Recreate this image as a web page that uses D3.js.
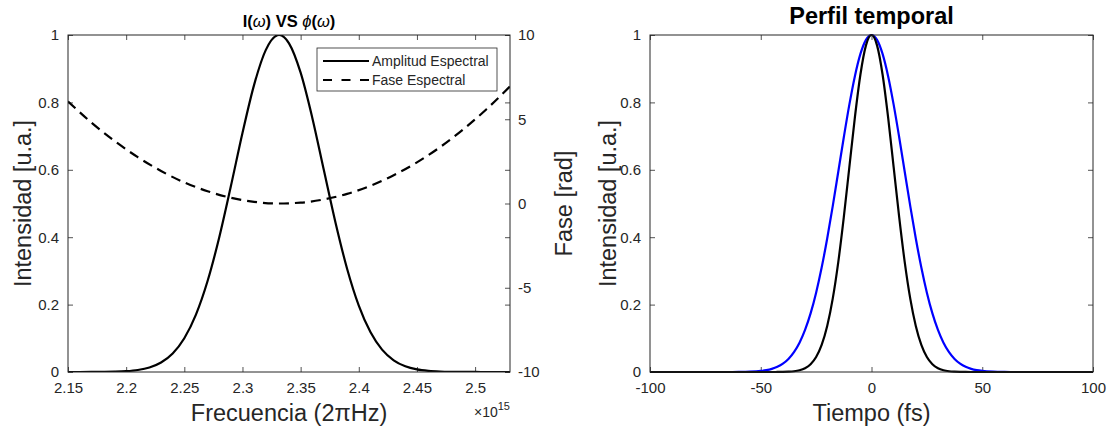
<!DOCTYPE html>
<html>
<head>
<meta charset="utf-8">
<script src="https://cdn.jsdelivr.net/npm/d3@7"></script>
<style>
  html, body { margin: 0; padding: 0; background: #fff; }
  svg { display: block; font-family: "Liberation Sans", Arial, Helvetica, sans-serif; }
</style>
</head>
<body>
<svg id="chart" width="1107" height="434"></svg>
<script>
// ---------- DATA ----------
// Left panel: spectral amplitude (normalized) vs frequency (x 1e15 2πHz)
const freq = [2.15, 2.16, 2.17, 2.18, 2.19, 2.20, 2.21, 2.22, 2.23, 2.24, 2.25, 2.26, 2.27, 2.28, 2.29, 2.30, 2.31, 2.32, 2.33, 2.3315, 2.34, 2.35, 2.36, 2.37, 2.38, 2.39, 2.40, 2.41, 2.42, 2.43, 2.44, 2.45, 2.46, 2.47, 2.48, 2.49, 2.50, 2.51, 2.52, 2.53];
const amplitud = [0.0000, 0.0000, 0.0001, 0.0004, 0.0010, 0.0025, 0.0060, 0.0135, 0.0283, 0.0551, 0.1003, 0.1703, 0.2699, 0.3992, 0.5509, 0.7092, 0.8521, 0.9552, 0.9992, 1.0000, 0.9753, 0.8882, 0.7548, 0.5985, 0.4429, 0.3058, 0.1970, 0.1184, 0.0664, 0.0348, 0.0170, 0.0077, 0.0033, 0.0013, 0.0005, 0.0002, 0.0001, 0.0000, 0.0000, 0.0000];
// Spectral phase (rad)
const freqFase = [2.15, 2.17, 2.19, 2.21, 2.23, 2.25, 2.27, 2.29, 2.31, 2.33, 2.35, 2.37, 2.39, 2.41, 2.43, 2.45, 2.47, 2.49, 2.51, 2.53];
const fase = [6.06, 4.81, 3.71, 2.75, 1.93, 1.25, 0.73, 0.34, 0.10, 0.00, 0.05, 0.24, 0.57, 1.05, 1.68, 2.44, 3.35, 4.41, 5.61, 6.95];

// Right panel: temporal profile
const tiempo = [-100, -65, -60, -55, -50, -47.5, -45, -42.5, -40, -37.5, -35, -32.5, -30, -27.5, -25, -22.5, -20, -17.5, -15, -12.5, -10, -7.5, -5, -2.5, 0, 2.5, 5, 7.5, 10, 12.5, 15, 17.5, 20, 22.5, 25, 27.5, 30, 32.5, 35, 37.5, 40, 42.5, 45, 47.5, 50, 55, 60, 65, 100];
const perfilNegro = [0, 0, 0, 0, 0, 0, 0, 0.0001, 0.0003, 0.0009, 0.0022, 0.0052, 0.0113, 0.0231, 0.0445, 0.0803, 0.1364, 0.2176, 0.3261, 0.4593, 0.6077, 0.7557, 0.8829, 0.9693, 1.0000, 0.9693, 0.8829, 0.7557, 0.6077, 0.4593, 0.3261, 0.2176, 0.1364, 0.0803, 0.0445, 0.0231, 0.0113, 0.0052, 0.0022, 0.0009, 0.0003, 0.0001, 0, 0, 0, 0, 0, 0, 0];
const perfilAzul = [0, 0, 0.0002, 0.0009, 0.0031, 0.0054, 0.0092, 0.0153, 0.0247, 0.0386, 0.0587, 0.0868, 0.1247, 0.1738, 0.2355, 0.3100, 0.3963, 0.4923, 0.5942, 0.6966, 0.7934, 0.8779, 0.9438, 0.9856, 1.0000, 0.9856, 0.9438, 0.8779, 0.7934, 0.6966, 0.5942, 0.4923, 0.3963, 0.3100, 0.2355, 0.1738, 0.1247, 0.0868, 0.0587, 0.0386, 0.0247, 0.0153, 0.0092, 0.0054, 0.0031, 0.0009, 0.0002, 0, 0];

// Ticks
const freqTicks = [2.15, 2.2, 2.25, 2.3, 2.35, 2.4, 2.45, 2.5];
const intTicks = [0, 0.2, 0.4, 0.6, 0.8, 1];
const faseTicks = [-10, -5, 0, 5, 10];
const tiempoTicks = [-100, -50, 0, 50, 100];
const legendLabels = ["Amplitud Espectral", "Fase Espectral"];

// ---------- DRAW ----------
const svg = d3.select("#chart");
const axisColor = "#262626";
const tickFont = 15;
const labelFont = "23.5px";

const yTop = 35, yBot = 372;

function styleAxis(g) {
  g.select(".domain").remove();
  g.selectAll(".tick line").attr("stroke", axisColor).attr("stroke-width", 0.8);
  g.selectAll(".tick text").attr("fill", axisColor).style("font-size", tickFont + "px")
    .style("font-family", '"Liberation Sans", Arial, sans-serif');
}
const fmtDec = d => (d === 0 || d === 1) ? String(d) : d.toFixed(1);
const fmtPlain = d => String(+d.toFixed(2));

// ===== Left panel =====
const L = { x0: 68, x1: 510 };
const xL = d3.scaleLinear().domain([2.15, 2.53]).range([L.x0, L.x1]);
const yL = d3.scaleLinear().domain([0, 1]).range([yBot, yTop]);
const yR = d3.scaleLinear().domain([-10, 10]).range([yBot, yTop]);

svg.append("clipPath").attr("id", "clipL").append("rect")
  .attr("x", L.x0).attr("y", yTop).attr("width", L.x1 - L.x0).attr("height", yBot - yTop);

const gL = svg.append("g");

gL.append("g").attr("transform", `translate(0,${yBot})`)
  .call(d3.axisBottom(xL).tickValues(freqTicks).tickSize(-5).tickPadding(10).tickFormat(fmtPlain))
  .call(styleAxis);
gL.append("g").attr("transform", `translate(0,${yTop})`)
  .call(d3.axisTop(xL).tickValues(freqTicks).tickSize(-5).tickFormat(""))
  .call(styleAxis);
gL.append("g").attr("transform", `translate(${L.x0},0)`)
  .call(d3.axisLeft(yL).tickValues(intTicks).tickSize(-5).tickPadding(9).tickFormat(fmtDec))
  .call(styleAxis);
gL.append("g").attr("transform", `translate(${L.x1},0)`)
  .call(d3.axisRight(yL).tickValues(intTicks).tickSize(-5).tickFormat(""))
  .call(styleAxis);
gL.append("g").attr("transform", `translate(${L.x1},0)`)
  .call(d3.axisRight(yR).tickValues(faseTicks).tickSize(-5).tickPadding(8).tickFormat(fmtPlain))
  .call(styleAxis);

const plotL = gL.append("g").attr("clip-path", "url(#clipL)");
plotL.append("path")
  .datum(freqFase.map((f, i) => [f, fase[i]]))
  .attr("fill", "none").attr("stroke", "#000").attr("stroke-width", 2.2)
  .attr("stroke-dasharray", "10,6")
  .attr("d", d3.line().x(d => xL(d[0])).y(d => yR(d[1])).curve(d3.curveMonotoneX));
plotL.append("path")
  .datum(freq.map((f, i) => [f, amplitud[i]]))
  .attr("fill", "none").attr("stroke", "#000").attr("stroke-width", 2.2)
  .attr("d", d3.line().x(d => xL(d[0])).y(d => yL(d[1])).curve(d3.curveMonotoneX));

gL.append("rect").attr("x", L.x0).attr("y", yTop).attr("width", L.x1 - L.x0).attr("height", yBot - yTop)
  .attr("fill", "none").attr("stroke", axisColor).attr("stroke-width", 1);

// Legend
const leg = gL.append("g");
leg.append("rect").attr("x", 317).attr("y", 48).attr("width", 180).attr("height", 43)
  .attr("fill", "#fff").attr("stroke", axisColor).attr("stroke-width", 0.8);
legendLabels.forEach((lab, i) => {
  const yy = 61 + i * 19;
  leg.append("line").attr("x1", 323).attr("x2", 369).attr("y1", yy).attr("y2", yy)
    .attr("stroke", "#000").attr("stroke-width", 2.2)
    .attr("stroke-dasharray", i === 1 ? "9,9.5" : null);
  leg.append("text").attr("x", 372).attr("y", yy + 5).text(lab)
    .style("font-size", "14px").attr("fill", axisColor);
});

// Title
const tL = gL.append("text").attr("x", (L.x0 + L.x1) / 2).attr("y", 27).attr("text-anchor", "middle")
  .style("font-size", "16.5px").style("font-weight", "bold").attr("fill", "#000");
tL.append("tspan").text("I(");
tL.append("tspan").text("ω").style("font-style", "italic").style("font-weight", "normal");
tL.append("tspan").text(") VS ");
tL.append("tspan").text("ϕ").style("font-style", "italic").style("font-weight", "normal");
tL.append("tspan").text("(");
tL.append("tspan").text("ω").style("font-style", "italic").style("font-weight", "normal");
tL.append("tspan").text(")");

// Axis labels
gL.append("text").attr("transform", `translate(31,${(yTop + yBot) / 2}) rotate(-90)`)
  .attr("text-anchor", "middle").style("font-size", labelFont).attr("fill", axisColor).text("Intensidad [u.a.]");
gL.append("text").attr("transform", `translate(572,${(yTop + yBot) / 2}) rotate(-90)`)
  .attr("text-anchor", "middle").style("font-size", labelFont).attr("fill", axisColor).text("Fase [rad]");
gL.append("text").attr("x", (L.x0 + L.x1) / 2).attr("y", 421).attr("text-anchor", "middle")
  .style("font-size", labelFont).attr("fill", axisColor).text("Frecuencia (2πHz)");
const expo = gL.append("text").attr("x", 474).attr("y", 417).style("font-size", "14px").attr("fill", axisColor);
expo.append("tspan").text("×10");
expo.append("tspan").text("15").attr("dy", -7).style("font-size", "11px");

// ===== Right panel =====
const R = { x0: 650, x1: 1093 };
const xT = d3.scaleLinear().domain([-100, 100]).range([R.x0, R.x1]);
const yT = d3.scaleLinear().domain([0, 1]).range([yBot, yTop]);

svg.append("clipPath").attr("id", "clipR").append("rect")
  .attr("x", R.x0).attr("y", yTop - 2).attr("width", R.x1 - R.x0).attr("height", yBot - yTop + 4);

const gR = svg.append("g");
gR.append("g").attr("transform", `translate(0,${yBot})`)
  .call(d3.axisBottom(xT).tickValues(tiempoTicks).tickSize(-5).tickPadding(10).tickFormat(fmtPlain))
  .call(styleAxis);
gR.append("g").attr("transform", `translate(0,${yTop})`)
  .call(d3.axisTop(xT).tickValues(tiempoTicks).tickSize(-5).tickFormat(""))
  .call(styleAxis);
gR.append("g").attr("transform", `translate(${R.x0},0)`)
  .call(d3.axisLeft(yT).tickValues(intTicks).tickSize(-5).tickPadding(9).tickFormat(fmtDec))
  .call(styleAxis);
gR.append("g").attr("transform", `translate(${R.x1},0)`)
  .call(d3.axisRight(yT).tickValues(intTicks).tickSize(-5).tickFormat(""))
  .call(styleAxis);

const plotR = gR.append("g").attr("clip-path", "url(#clipR)");
const lineT = d3.line().x(d => xT(d[0])).y(d => yT(d[1])).curve(d3.curveMonotoneX);
plotR.append("path").datum(tiempo.map((t, i) => [t, perfilAzul[i]]))
  .attr("fill", "none").attr("stroke", "#0000ff").attr("stroke-width", 2.2).attr("d", lineT);
plotR.append("path").datum(tiempo.map((t, i) => [t, perfilNegro[i]]))
  .attr("fill", "none").attr("stroke", "#000").attr("stroke-width", 2.2).attr("d", lineT);

gR.append("rect").attr("x", R.x0).attr("y", yTop).attr("width", R.x1 - R.x0).attr("height", yBot - yTop)
  .attr("fill", "none").attr("stroke", axisColor).attr("stroke-width", 1);

gR.append("text").attr("x", (R.x0 + R.x1) / 2).attr("y", 24).attr("text-anchor", "middle")
  .style("font-size", "23.5px").style("font-weight", "bold").attr("fill", "#000").text("Perfil temporal");
gR.append("text").attr("transform", `translate(616,${(yTop + yBot) / 2}) rotate(-90)`)
  .attr("text-anchor", "middle").style("font-size", labelFont).attr("fill", axisColor).text("Intensidad [u.a.]");
gR.append("text").attr("x", (R.x0 + R.x1) / 2).attr("y", 421).attr("text-anchor", "middle")
  .style("font-size", labelFont).attr("fill", axisColor).text("Tiempo (fs)");
</script>
</body>
</html>
